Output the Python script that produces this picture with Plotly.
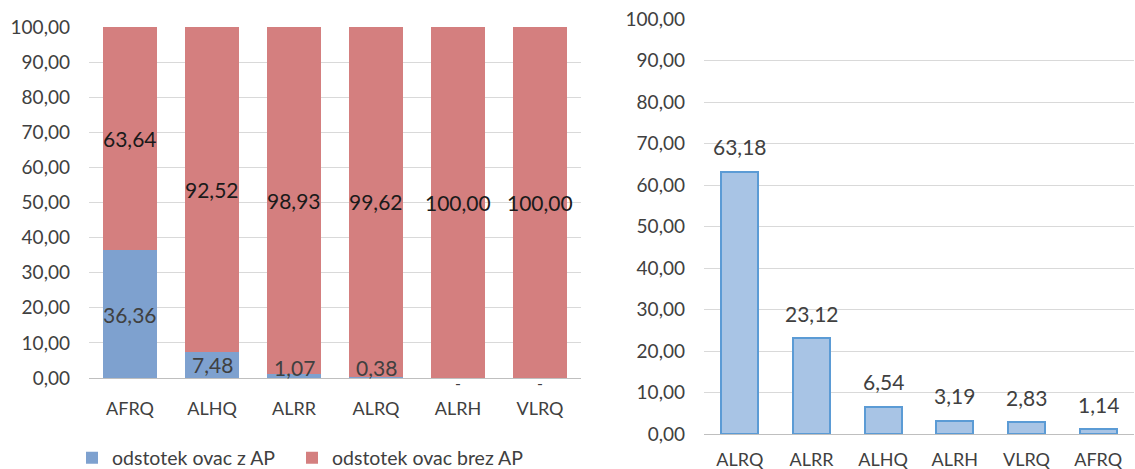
import plotly.graph_objects as go

# Left chart: share of sheep with / without AP per breed (stacked to 100 %)
breeds_left = ["AFRQ", "ALHQ", "ALRR", "ALRQ", "ALRH", "VLRQ"]
share_with_ap = [36.36, 7.48, 1.07, 0.38, 0.0, 0.0]
share_without_ap = [63.64, 92.52, 98.93, 99.62, 100.0, 100.0]

# Right chart: values per breed, sorted descending
breeds_right = ["ALRQ", "ALRR", "ALHQ", "ALRH", "VLRQ", "AFRQ"]
right_values = [63.18, 23.12, 6.54, 3.19, 2.83, 1.14]

legend_names = ["odstotek ovac z AP", "odstotek ovac brez AP"]
y_ticks = [0, 10, 20, 30, 40, 50, 60, 70, 80, 90, 100]

W, H = 1135, 469
FONT = "Lato"
BLUE = "#7ea1cf"
RED = "#d47f7f"
LIGHT_BLUE = "#a8c4e5"
EDGE_BLUE = "#5b9bd5"
GRID = "#d9d9d9"
TEXT = "#404040"
LABEL_SIZE = 21


def fmt(v):
    return "-" if v == 0 else f"{v:.2f}".replace(".", ",")


fig = go.Figure()

fig.add_trace(go.Bar(
    x=breeds_left, y=share_with_ap, name=legend_names[0],
    marker=dict(color=BLUE, line=dict(width=0)),
    width=0.66, xaxis="x", yaxis="y", legend="legend",
))
fig.add_trace(go.Bar(
    x=breeds_left, y=share_without_ap, name=legend_names[1],
    marker=dict(color=RED, line=dict(width=0)),
    width=0.66, xaxis="x", yaxis="y", legend="legend2",
))
fig.add_trace(go.Bar(
    x=breeds_right, y=right_values, showlegend=False,
    marker=dict(color=LIGHT_BLUE, line=dict(color=EDGE_BLUE, width=2)),
    width=0.52, xaxis="x2", yaxis="y2",
))

annotations = []
# labels centred in each stacked segment, kept inside the plot area
for cat, lo, hi in zip(breeds_left, share_with_ap, share_without_ap):
    if lo == 0:
        annotations.append(dict(x=cat, y=0, xref="x", yref="y", text="-",
                                showarrow=False, yshift=-4,
                                font=dict(family=FONT, size=16, color=TEXT)))
    else:
        annotations.append(dict(x=cat, y=max(lo / 2, 3.0), xref="x", yref="y",
                                text=fmt(lo), showarrow=False,
                                font=dict(family=FONT, size=LABEL_SIZE, color=TEXT)))
    annotations.append(dict(x=cat, y=lo + hi / 2, xref="x", yref="y",
                            text=fmt(hi), showarrow=False,
                            font=dict(family=FONT, size=LABEL_SIZE, color="#1a1a1a")))

# labels above the right-hand bars
for cat, v in zip(breeds_right, right_values):
    annotations.append(dict(x=cat, y=v, xref="x2", yref="y2", text=fmt(v),
                            showarrow=False, yanchor="middle", yshift=25,
                            font=dict(family=FONT, size=LABEL_SIZE, color=TEXT)))

cat_font = dict(family=FONT, size=18, color=TEXT)
val_font = dict(family=FONT, size=19, color=TEXT)
legend_style = dict(orientation="h", xanchor="left", y=1 - 458 / H,
                    yanchor="middle", itemwidth=30, bgcolor="rgba(0,0,0,0)",
                    font=dict(family=FONT, size=19.5, color=TEXT))

fig.update_layout(
    width=W, height=H,
    margin=dict(l=0, r=0, t=0, b=0, autoexpand=False),
    paper_bgcolor="white", plot_bgcolor="white",
    barmode="stack",
    separators=",.",
    font=dict(family=FONT, size=18, color=TEXT),
    annotations=annotations,
    xaxis=dict(domain=[89 / W, 581 / W], anchor="y", range=[-0.5, 5.5],
               showline=True, linecolor="#bfbfbf", linewidth=1,
               showgrid=False, ticks="", tickfont=cat_font,
               ticklabelstandoff=14),
    yaxis=dict(domain=[1 - 378 / H, 1 - 27 / H], anchor="x", range=[0, 100],
               tickvals=y_ticks, tickformat=".2f", showgrid=True,
               gridcolor=GRID, gridwidth=1, zeroline=False, showline=False,
               ticks="", tickfont=val_font, ticklabelstandoff=18),
    xaxis2=dict(domain=[704 / W, 1134 / W], anchor="y2", range=[-0.5, 5.5],
                showline=True, linecolor="#bfbfbf", linewidth=1,
                showgrid=False, ticks="", tickfont=cat_font,
                ticklabelstandoff=9),
    yaxis2=dict(domain=[1 - 434 / H, 1 - 19 / H], anchor="x2", range=[0, 100],
                tickvals=y_ticks, tickformat=".2f", showgrid=True,
                gridcolor=GRID, gridwidth=1, zeroline=False, showline=False,
                ticks="", tickfont=val_font, ticklabelstandoff=18),
    legend=dict(x=72 / W, **legend_style),
    legend2=dict(x=292 / W, **legend_style),
)

fig.write_html("out.html")
